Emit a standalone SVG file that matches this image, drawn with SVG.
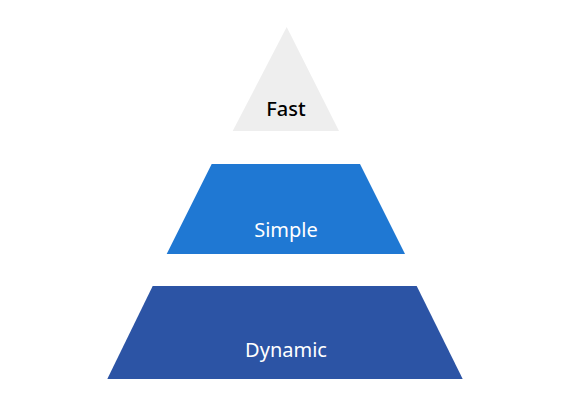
<svg xmlns="http://www.w3.org/2000/svg" width="570" height="411" viewBox="0 0 570 411">
<style>
.lbl{font-family:"Noto Sans","Open Sans",sans-serif;font-size:20px;text-anchor:middle}
</style>
<rect width="570" height="411" fill="#ffffff"/>
<g id="fast">
<polygon points="286.7,27 232.7,131 339,131" fill="#eeeeee"/>
<text class="lbl" x="286" y="116" fill="#000000" font-weight="500">Fast</text>
</g>
<g id="simple">
<polygon points="211.7,164 360,164 405,254 166.7,254" fill="#1f78d3"/>
<text class="lbl" x="286" y="237" fill="#ffffff">Simple</text>
</g>
<g id="dynamic">
<polygon points="152.7,286 416.7,286 462.7,379 107.3,379" fill="#2c54a5"/>
<text class="lbl" x="286" y="357" fill="#ffffff">Dynamic</text>
</g>
<g id="connectors"></g>
</svg>
